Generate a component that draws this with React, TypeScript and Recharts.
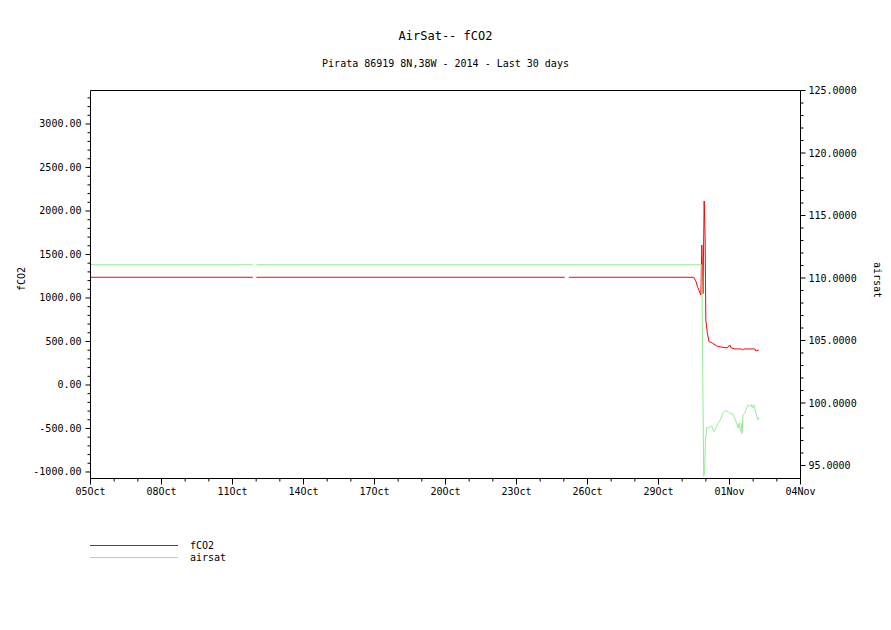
import { LineChart, Line, XAxis, YAxis, Legend } from 'recharts';

const FONT = '"DejaVu Sans Mono", monospace';
const RED = '#ff0000';
const GREEN = '#90ee90';

// time axis in days since 05 Oct 2014 00:00
const dayLabels = ['05Oct', '08Oct', '11Oct', '14Oct', '17Oct', '20Oct', '23Oct', '26Oct', '29Oct', '01Nov', '04Nov'];
const dayTicks = Array.from({ length: 31 }, (_, i) => i);

const fco2Ticks = Array.from({ length: 44 }, (_, i) => -1000 + i * 100);
const airsatTicks = Array.from({ length: 31 }, (_, i) => 95 + i);

const legendOrder = ['fCO2', 'airsat'];

// fCO2 (left axis)
const fco2Time = [0, 6.86, 6.93, 7.01, 20.04, 20.12, 20.21, 25.49, 25.58, 25.66, 25.79, 25.83, 25.88, 25.93, 25.97, 26.0, 26.06, 26.14, 26.2, 26.34, 26.46, 26.63, 26.9, 27.01, 27.07, 27.23, 27.5, 27.55, 27.6, 28.07, 28.11, 28.24];
const fco2Values = [1238, 1238, null, 1238, 1238, null, 1238, 1238, 1190, 1120, 1034, 1609, 1050, 2115, 1700, 750, 600, 494, 494, 471, 448, 437, 425, 460, 425, 414, 414, 400, 414, 414, 391, 402];

// airsat (right axis)
const airsatTime = [0, 6.86, 6.93, 7.01, 25.83, 25.91, 25.95, 25.98, 26.03, 26.05, 26.14, 26.24, 26.31, 26.35, 26.42, 26.52, 26.62, 26.73, 26.8, 26.94, 27.01, 27.13, 27.19, 27.3, 27.36, 27.41, 27.45, 27.49, 27.52, 27.53, 27.57, 27.65, 27.72, 27.79, 27.86, 27.93, 27.97, 28.03, 28.08, 28.14, 28.21, 28.25];
const airsatValues = [111.06, 111.06, null, 111.06, 111.06, 94.12, 94.52, 96.92, 97.86, 98.07, 97.99, 98.18, 97.86, 97.72, 97.99, 98.39, 98.66, 99.24, 99.38, 99.32, 99.19, 99.14, 98.92, 98.39, 97.99, 98.39, 97.91, 97.72, 98.39, 97.54, 99.06, 99.19, 99.59, 99.86, 99.72, 99.86, 99.59, 99.86, 99.46, 99.06, 98.66, 98.87];

const fco2Data = fco2Time.map((t, i) => ({ t, fco2: fco2Values[i] }));
const airsatData = airsatTime.map((t, i) => ({ t, airsat: airsatValues[i] }));

const textStyle = { fontFamily: FONT, fontSize: 10, fill: '#000' };

function BottomTick({ x, y, payload }: any) {
    const major = payload.value % 3 === 0;
    return (
        <g>
            <line x1={x} x2={x} y1={y} y2={y + (major ? 6 : 3)} stroke="#000" />
            {major && (
                <text x={x} y={y + 9} dy="0.71em" textAnchor="middle" style={textStyle}>
                    {dayLabels[payload.value / 3]}
                </text>
            )}
        </g>
    );
}

function TopTick({ x, y, payload }: any) {
    const major = payload.value % 3 === 0;
    return <line x1={x} x2={x} y1={y} y2={y - (major ? 6 : 4)} stroke="#000" />;
}

function LeftTick({ x, y, payload }: any) {
    const major = payload.value % 500 === 0;
    return (
        <g>
            <line x1={x - (major ? 5 : 3)} x2={x} y1={y} y2={y} stroke="#000" />
            {major && (
                <text x={x - 9} y={y} dy="0.35em" textAnchor="end" style={textStyle}>
                    {payload.value.toFixed(2)}
                </text>
            )}
        </g>
    );
}

function RightTick({ x, y, payload }: any) {
    const major = payload.value % 5 === 0;
    return (
        <g>
            <line x1={x} x2={x + (major ? 5 : 3)} y1={y} y2={y} stroke="#000" />
            {major && (
                <text x={x + 8} y={y} dy="0.35em" textAnchor="start" style={textStyle}>
                    {payload.value.toFixed(4)}
                </text>
            )}
        </g>
    );
}

function LegendBox({ payload }: any) {
    const items = legendOrder
        .map((name) => (payload || []).find((p: any) => p.value === name))
        .filter(Boolean);
    return (
        <svg width={200} height={26}>
            {items.map((p: any, i: number) => (
                <g key={p.value}>
                    <line x1={0} x2={88} y1={7.5 + i * 12} y2={7.5 + i * 12} stroke={p.color} />
                    <text x={100} y={7.5 + i * 12} dy="0.35em" style={textStyle}>
                        {p.value}
                    </text>
                </g>
            ))}
        </svg>
    );
}

const overlay = { position: 'absolute' as const, fontFamily: FONT, color: '#000', lineHeight: 1, whiteSpace: 'nowrap' as const };

export default function App() {
    return (
        <div style={{ position: 'absolute', left: 0, top: 0, width: 891, height: 630, background: '#fff' }}>
            <LineChart width={891} height={630} margin={{ top: 84.5, right: 0, bottom: 121.5, left: 0 }}>
                <XAxis
                    dataKey="t"
                    type="number"
                    domain={[0, 30]}
                    ticks={dayTicks}
                    interval={0}
                    height={30}
                    tickSize={0}
                    tickMargin={0}
                    tick={<BottomTick />}
                    axisLine={{ stroke: '#000' }}
                    allowDataOverflow
                />
                <XAxis
                    xAxisId="top"
                    orientation="top"
                    type="number"
                    domain={[0, 30]}
                    ticks={dayTicks}
                    interval={0}
                    height={6}
                    tickSize={0}
                    tickMargin={0}
                    tick={<TopTick />}
                    axisLine={{ stroke: '#000' }}
                    allowDataOverflow
                />
                <YAxis
                    yAxisId="left"
                    type="number"
                    domain={[-1075, 3385]}
                    ticks={fco2Ticks}
                    interval={0}
                    width={90.5}
                    tickSize={0}
                    tickMargin={0}
                    tick={<LeftTick />}
                    axisLine={{ stroke: '#000' }}
                    allowDataOverflow
                />
                <YAxis
                    yAxisId="right"
                    orientation="right"
                    type="number"
                    domain={[93.96, 125]}
                    ticks={airsatTicks}
                    interval={0}
                    width={90.5}
                    tickSize={0}
                    tickMargin={0}
                    tick={<RightTick />}
                    axisLine={{ stroke: '#000' }}
                    allowDataOverflow
                />
                <Legend
                    layout="horizontal"
                    verticalAlign="middle"
                    content={<LegendBox />}
                    wrapperStyle={{ position: 'absolute', left: 90, top: 538, width: 200, height: 26 }}
                />
                <Line
                    yAxisId="left"
                    data={fco2Data}
                    dataKey="fco2"
                    name="fCO2"
                    type="linear"
                    stroke={RED}
                    strokeWidth={1}
                    dot={false}
                    activeDot={false}
                    isAnimationActive={false}
                />
                <Line
                    yAxisId="right"
                    data={airsatData}
                    dataKey="airsat"
                    name="airsat"
                    type="linear"
                    stroke={GREEN}
                    strokeWidth={1}
                    dot={false}
                    activeDot={false}
                    isAnimationActive={false}
                />
            </LineChart>
            <div style={{ ...overlay, left: 445.5, top: 36, fontSize: 12, transform: 'translate(-50%, -50%)' }}>AirSat-- fCO2</div>
            <div style={{ ...overlay, left: 445.5, top: 64, fontSize: 10, transform: 'translate(-50%, -50%)' }}>
                Pirata 86919 8N,38W - 2014 - Last 30 days
            </div>
            <div style={{ ...overlay, left: 22, top: 279, fontSize: 10, transform: 'translate(-50%, -50%) rotate(-90deg)' }}>fCO2</div>
            <div style={{ ...overlay, left: 877, top: 280, fontSize: 10, transform: 'translate(-50%, -50%) rotate(90deg)' }}>airsat</div>
        </div>
    );
}
